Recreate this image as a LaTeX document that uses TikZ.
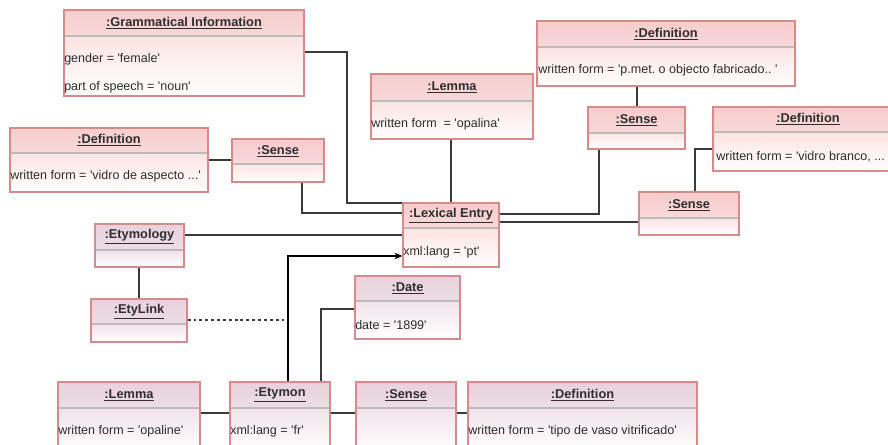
\documentclass[tikz,border=0pt]{standalone}
\usepackage{fontspec}
\setmainfont{Liberation Sans}[Ligatures=TeXOff]
\usetikzlibrary{arrows.meta}
\frenchspacing
\definecolor{pinkH}{HTML}{F7CCCC}
\definecolor{pinkB}{HTML}{FCE3E3}
\definecolor{lavH}{HTML}{E7D1DD}
\definecolor{lavB}{HTML}{F0E2EA}
\definecolor{frameC}{HTML}{D68A8A}
\definecolor{sepC}{HTML}{BBBBBB}
\definecolor{lineC}{HTML}{3A3A3A}
\definecolor{txtC}{HTML}{2E2E2E}
\tikzset{
  objframe/.style={draw=frameC, line width=1pt, fill=none, inner sep=0pt, rectangle},
  sepline/.style={draw=sepC, line width=1.3pt},
  titletext/.style={font=\fontsize{9.6}{11}\selectfont\bfseries, text=txtC, inner sep=0pt},
  bodytext/.style={font=\fontsize{9.4}{11}\selectfont, text=txtC, inner sep=0pt, anchor=west, yshift=-1.2pt},
  conn/.style={draw=lineC, line width=0.8pt},
  dashconn/.style={draw=lineC, line width=0.8pt, dash pattern=on 2.2pt off 2.2pt},
  arrowconn/.style={draw=black, line width=0.8pt, -{Stealth[length=6pt,width=5pt]}},
}
\newcommand\objbox[9]{%
  \shade[top color=#8, bottom color=#8!75!white] (#2,#3) rectangle (#4,#6);
  \shade[top color=#9, bottom color=white] (#2,#6) rectangle (#4,#5);
  \draw[sepline] (#2,#6) -- (#4,#6);
  \node[objframe, minimum width={(#4-#2)*0.75pt}, minimum height={(#5-#3)*0.75pt}] (#1) at ({(#2+#4)/2},{(#3+#5)/2}) {};
  \node[titletext] (#1-t) at ({(#2+#4)/2},{(#3+#6)/2}) {\underline{#7}};
}
\begin{document}
\begin{tikzpicture}[x=0.75pt,y=-0.75pt]
\useasboundingbox (0,0) rectangle (888,445);
\clip (0,0) rectangle (888,445);
\fill[white] (0,0) rectangle (888,445);

% boxes
\objbox{gi}{64}{10}{304}{96}{36}{:Grammatical Information}{pinkH}{pinkB}
\node[bodytext] (gi-a) at (64,58) {gender = 'female'};
\node[bodytext] (gi-b) at (64,86) {part of speech = 'noun'};

\objbox{lemma}{371}{74}{533}{139}{101}{:Lemma}{pinkH}{pinkB}
\node[bodytext] (lemma-a) at (371,123) {written form\ \ = 'opalina'};

\objbox{defT}{537}{21}{795}{86}{47}{:Definition}{pinkH}{pinkB}
\node[bodytext] (defT-a) at (538,69) {written form = 'p.met. o objecto fabricado.. '};

\objbox{senseT}{588}{107}{685}{149}{133}{:Sense}{pinkH}{pinkB}

\objbox{defR}{713}{107}{903}{171}{132}{:Definition}{pinkH}{pinkB}
\node[bodytext] (defR-a) at (716,155) {written form = 'vidro branco, ...};

\objbox{defL}{10}{128}{208}{192}{153}{:Definition}{pinkH}{pinkB}
\node[bodytext] (defL-a) at (10,175) {written form = 'vidro de aspecto ...'};

\objbox{senseL}{232}{139}{324}{182}{164}{:Sense}{pinkH}{pinkB}

\objbox{le}{403}{203}{499}{267}{228}{:Lexical Entry}{pinkH}{pinkB}
\node[bodytext] (le-a) at (403,251) {xml:lang = 'pt'};

\objbox{senseR}{639}{192}{739}{235}{218}{:Sense}{pinkH}{pinkB}

\objbox{ety}{95}{224}{184}{267}{250}{:Etymology}{lavH}{lavB}
\objbox{etylink}{91}{299}{187}{342}{324}{:EtyLink}{lavH}{lavB}

\objbox{date}{355}{276}{460}{339}{301}{:Date}{lavH}{lavB}
\node[bodytext] (date-a) at (355,323) {date = '1899'};

\objbox{lemmaB}{58}{382}{200}{452}{408}{:Lemma}{lavH}{lavB}
\node[bodytext] (lemmaB-a) at (58,430) {written form = 'opaline'};

\objbox{etymon}{230}{382}{330}{452}{408}{:Etymon}{lavH}{lavB}
\node[bodytext] (etymon-a) at (230,430) {xml:lang = 'fr'};

\objbox{senseB}{356}{382}{456}{452}{408}{:Sense}{lavH}{lavB}

\objbox{defB}{468}{382}{697}{452}{408}{:Definition}{lavH}{lavB}
\node[bodytext] (defB-a) at (468,430) {written form = 'tipo de vaso vitrificado'};

\coordinate (dashend) at (288,320);

% connectors
\draw[conn] (gi.east |- 0,52) -| (347,203) -- (le.west |- 0,203);
\draw[conn] (senseL.south -| 302,0) |- (le.west |- 0,213);
\draw[conn] (lemma.south -| 451,0) -- (le.north -| 451,0);
\draw[conn] (le.east |- 0,214) -| (senseT.south -| 599,0);
\draw[conn] (le.east |- 0,222) -- (senseR.west |- 0,222);
\draw[conn] (senseR.north -| 695,0) |- (defR.west |- 0,149);
\draw[conn] (defT.south -| 637,0) -- (senseT.north -| 637,0);
\draw[conn] (defL.east |- 0,160) -- (senseL.west |- 0,160);
\draw[conn] (ety.east |- 0,235) -- (le.west |- 0,235);
\draw[conn] (ety.south -| 139,0) -- (etylink.north -| 139,0);
\draw[dashconn] (etylink.east |- 0,320) -- (dashend);
\draw[arrowconn] (etymon.north -| 288,0) |- (le.west |- 0,256);
\draw[conn] (date.west |- 0,309) -| (etymon.north -| 321,0);
\draw[conn] (lemmaB.east |- 0,413) -- (etymon.west |- 0,413);
\draw[conn] (etymon.east |- 0,413) -- (senseB.west |- 0,413);
\draw[conn] (senseB.east |- 0,413) -- (defB.west |- 0,413);
\end{tikzpicture}
\end{document}
